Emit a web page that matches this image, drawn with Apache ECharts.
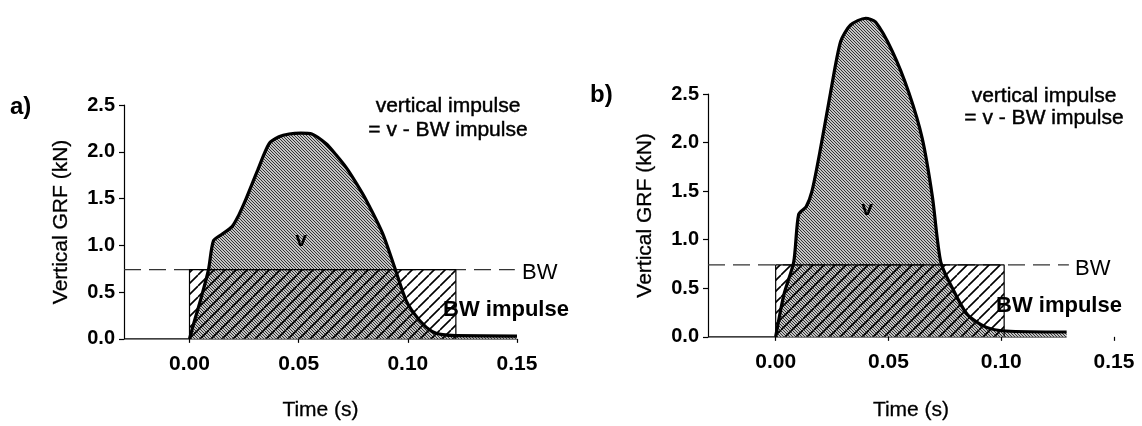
<!DOCTYPE html>
<html>
<head>
<meta charset="utf-8">
<script src="https://cdn.jsdelivr.net/npm/echarts@6/dist/echarts.min.js"></script>
<style>
html,body{margin:0;padding:0;background:#fff;}
#chart{width:1142px;height:426px;}
</style>
</head>
<body>
<div id="chart"></div>
<script>
// ---------- data ----------
const xTicks = [0, 0.05, 0.10, 0.15];
const yTicks = [0, 0.5, 1.0, 1.5, 2.0, 2.5];

// panel a) vertical GRF curve (time s, force kN)
const timeA = [0, 0.002, 0.005, 0.0087, 0.011, 0.015, 0.0195, 0.0225, 0.0256, 0.031, 0.0364, 0.041, 0.0456, 0.051, 0.056, 0.0626, 0.067, 0.0718, 0.0765, 0.081, 0.0884, 0.094, 0.0994, 0.1054, 0.111, 0.116, 0.122, 0.15];
const grfA  = [0, 0.17, 0.41, 0.74, 1.05, 1.12, 1.20, 1.32, 1.48, 1.79, 2.085, 2.16, 2.19, 2.20, 2.19, 2.085, 1.97, 1.83, 1.66, 1.48, 1.13, 0.76, 0.40, 0.197, 0.08, 0.045, 0.035, 0.03];
const bwA = 0.74;          // body weight (kN)
const bwEndA = 0.122;      // end of BW impulse rectangle (s)
const baseEndA = 0.15;     // end of baseline
const bwLineEndA = 0.149;  // end of BW dashed line

// panel b)
const timeB = [0, 0.0036, 0.008, 0.0102, 0.0135, 0.0161, 0.0199, 0.0243, 0.0288, 0.0332, 0.0399, 0.0443, 0.0517, 0.0591, 0.065, 0.0695, 0.0732, 0.0784, 0.085, 0.0932, 0.102, 0.129];
const grfB  = [0, 0.43, 0.77, 1.26, 1.34, 1.50, 1.94, 2.51, 3.04, 3.21, 3.28, 3.24, 2.94, 2.51, 2.04, 1.44, 0.77, 0.50, 0.23, 0.10, 0.06, 0.05];
const bwB = 0.74;
const bwEndB = 0.1013;
const baseEndB = 0.129;
const bwLineEndB = 0.13;

const xMin = -0.03, xMax = 0.15;
const yMin = 0, yMax = 2.5;

// ---------- helpers ----------
function hatch(period, dir, lineColor, bg, lw) {
  const c = document.createElement('canvas');
  c.width = period; c.height = period;
  const g = c.getContext('2d');
  if (bg) { g.fillStyle = bg; g.fillRect(0, 0, period, period); }
  g.strokeStyle = lineColor; g.lineWidth = lw;
  g.beginPath();
  for (let k = -1; k <= 1; k++) {
    if (dir === '/') { g.moveTo(k * period, period); g.lineTo(k * period + period, 0); }
    else { g.moveTo(k * period, 0); g.lineTo(k * period + period, period); }
  }
  g.stroke();
  return c;
}
const fineFill = { image: hatch(3, '\\', '#333', '#c4c4c4', 1), repeat: 'repeat' };
const wideFill = { image: hatch(11, '/', '#000', null, 1.6), repeat: 'repeat' };

const FONT = '"Liberation Sans", Arial, sans-serif';

function zip(t, v) { return t.map((x, i) => [x, v[i]]); }

function panelSeries(idx, time, grf, bw, bwEnd, baseEnd, bwLineEnd) {
  const curve = zip(time, grf);
  const common = { xAxisIndex: idx, yAxisIndex: idx, showSymbol: false, symbol: 'none', silent: true, animation: false, clip: false };
  return [
    Object.assign({}, common, { type: 'line', z: 1, data: [[xMin, 0], [baseEnd, 0]],
      lineStyle: { color: '#000', width: 1.4 } }),
    Object.assign({}, common, { type: 'line', z: 2, smooth: 0.25, data: curve,
      lineStyle: { width: 0, opacity: 0 }, areaStyle: { color: fineFill, opacity: 1 } }),
    Object.assign({}, common, { type: 'line', z: 3, data: [[xMin, bw], [bwLineEnd, bw]],
      lineStyle: { color: '#333', width: 1.3, type: [17, 8] } }),
    Object.assign({}, common, { type: 'line', z: 4, data: [[0, 0], [0, bw], [bwEnd, bw], [bwEnd, 0]],
      lineStyle: { color: '#000', width: 1.2 }, areaStyle: { color: wideFill, opacity: 1 } }),
    Object.assign({}, common, { type: 'line', z: 5, smooth: 0.25, data: curve,
      lineStyle: { color: '#000', width: 3.2, join: 'round' } })
  ];
}

function xAxis(idx, gap) {
  return {
    type: 'value', gridIndex: idx, min: xMin, max: xMax,
    name: 'Time (s)', nameLocation: 'middle', nameGap: gap,
    nameTextStyle: { fontFamily: FONT, fontSize: 21, color: '#000', textBorderColor: '#000', textBorderWidth: 0.3 },
    axisLine: { show: false, onZero: false },
    axisTick: { show: true, customValues: xTicks, length: 4, inside: false, lineStyle: { color: '#000', width: 1.2 } },
    axisLabel: { customValues: xTicks, margin: 15, fontFamily: FONT, fontSize: 21, fontWeight: 'bold', color: '#000',
      formatter: v => v.toFixed(2) },
    splitLine: { show: false }
  };
}
function yAxis(idx) {
  return {
    type: 'value', gridIndex: idx, min: yMin, max: yMax, interval: 0.5,
    name: 'Vertical GRF (kN)', nameLocation: 'middle', nameGap: 52,
    nameTextStyle: { fontFamily: FONT, fontSize: 21, color: '#000', textBorderColor: '#000', textBorderWidth: 0.3 },
    axisLine: { show: true, onZero: false, lineStyle: { color: '#000', width: 1.2 } },
    axisTick: { show: true, length: 5, lineStyle: { color: '#000', width: 1.2 } },
    axisLabel: { margin: 9, fontFamily: FONT, fontSize: 20, fontWeight: 'bold', color: '#000',
      formatter: v => v.toFixed(1) },
    splitLine: { show: false }
  };
}

function txt(x, y, text, size, weight, align, heavy) {
  const style = { text: text, font: (weight || 'normal') + ' ' + size + 'px ' + FONT, fill: '#000',
    align: align || 'center', textAlign: align || 'center', verticalAlign: 'middle', textVerticalAlign: 'middle' };
  if (heavy) { style.stroke = '#000'; style.lineWidth = heavy; }
  return { type: 'text', x: x, y: y, z: 100, silent: true, style: style };
}

const chart = echarts.init(document.getElementById('chart'), null, { renderer: 'canvas' });
chart.setOption({
  backgroundColor: '#fff',
  animation: false,
  grid: [
    { left: 124, top: 105, width: 393, height: 241 },
    { left: 708, top: 94, width: 406, height: 249 }
  ],
  xAxis: [xAxis(0, 61), xAxis(1, 63)],
  yAxis: [yAxis(0), yAxis(1)],
  series: [].concat(
    panelSeries(0, timeA, grfA, bwA, bwEndA, baseEndA, bwLineEndA),
    panelSeries(1, timeB, grfB, bwB, bwEndB, baseEndB, bwLineEndB)
  ),
  graphic: [
    txt(10, 107, 'a)', 24, 'bold', 'left'),
    txt(590, 95, 'b)', 24, 'bold', 'left'),
    txt(448, 106, 'vertical impulse', 21, 'normal', 'center', 0.45),
    txt(448, 130, '= v - BW impulse', 21, 'normal', 'center', 0.45),
    txt(1044, 96, 'vertical impulse', 21, 'normal', 'center', 0.45),
    txt(1044, 118, '= v - BW impulse', 21, 'normal', 'center', 0.45),
    txt(522, 273, 'BW', 22, 'normal', 'left'),
    txt(1075, 269, 'BW', 22, 'normal', 'left'),
    txt(506, 310, 'BW impulse', 22, 'bold', 'center'),
    txt(1059, 306, 'BW impulse', 22, 'bold', 'center'),
    txt(301, 240, 'v', 21, 'bold', 'center'),
    txt(867, 209, 'v', 21, 'bold', 'center')
  ]
});
</script>
</body>
</html>
